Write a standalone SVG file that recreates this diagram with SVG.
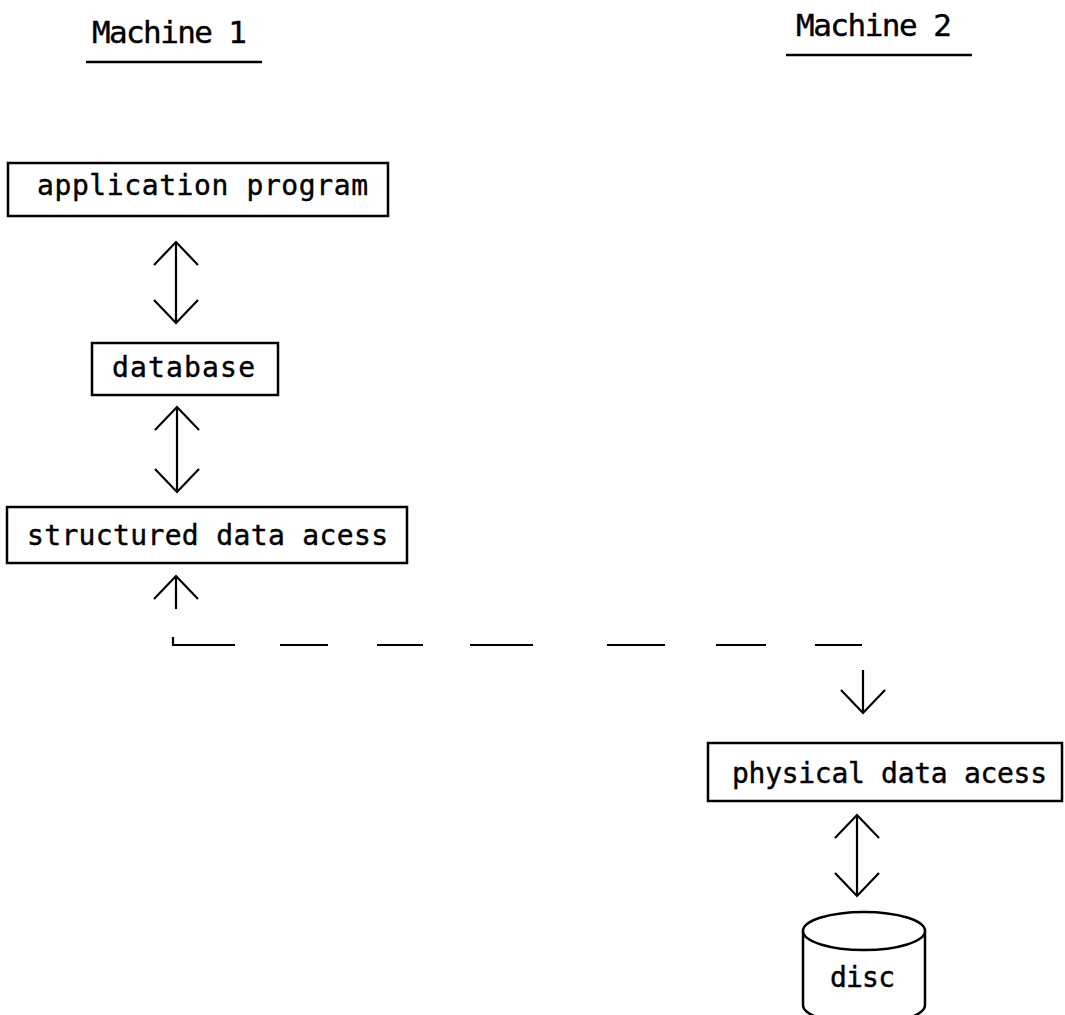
<svg xmlns="http://www.w3.org/2000/svg" width="1065" height="1015" viewBox="0 0 1065 1015">
  <style>
    .bg { fill: #ffffff; }
    .box { fill: #ffffff; stroke: #000000; stroke-width: 2.5; }
    .lbl { font-family: "DejaVu Sans Mono", "Liberation Mono", monospace; font-size: 28px; fill: #000000; stroke: #000000; stroke-width: 0.4; }
    .head { font-family: "DejaVu Sans Mono", "Liberation Mono", monospace; font-size: 31px; fill: #000000; stroke: #000000; stroke-width: 0.4; }
    .rule { stroke: #000000; stroke-width: 2.5; fill: none; }
    .conn { stroke: #000000; stroke-width: 2.2; fill: none; }
  </style>
  <defs>
    <marker id="v" markerUnits="userSpaceOnUse" viewBox="-30 -30 40 60" refX="0" refY="0" markerWidth="40" markerHeight="60" orient="auto-start-reverse" overflow="visible">
      <path d="M -23 -22 L 0 0 L -23 22" fill="none" stroke="#000000" stroke-width="2.2"/>
    </marker>
  </defs>
  <rect class="bg" x="0" y="0" width="1065" height="1015"/>

  <g id="machine1">
    <text class="head" x="92" y="43" textLength="155" lengthAdjust="spacing">Machine 1</text>
    <line class="rule" x1="86" y1="62" x2="262" y2="62"/>
  </g>
  <g id="machine2">
    <text class="head" x="796" y="36" textLength="156" lengthAdjust="spacing">Machine 2</text>
    <line class="rule" x1="786" y1="55" x2="972" y2="55"/>
  </g>

  <g id="application-program">
    <rect class="box" x="8" y="163" width="380" height="53"/>
    <text class="lbl" x="37" y="195" textLength="331" lengthAdjust="spacing">application program</text>
  </g>
  <g id="database">
    <rect class="box" x="92" y="343" width="186" height="52"/>
    <text class="lbl" x="112" y="377" textLength="143" lengthAdjust="spacing">database</text>
  </g>
  <g id="structured-data-acess">
    <rect class="box" x="7" y="507" width="400" height="56"/>
    <text class="lbl" x="27" y="545" textLength="361" lengthAdjust="spacing">structured data acess</text>
  </g>
  <g id="physical-data-acess">
    <rect class="box" x="708" y="743" width="354" height="58"/>
    <text class="lbl" x="732" y="783" textLength="315" lengthAdjust="spacing">physical data acess</text>
  </g>
  <g id="disc">
    <path class="box" d="M803 931 A61 19 0 0 1 925 931 L925 1005 A61 19 0 0 1 803 1005 Z"/>
    <path class="box" d="M803 931 A61 19 0 0 0 925 931" fill="none"/>
    <text class="lbl" x="830" y="987" textLength="65" lengthAdjust="spacing">disc</text>
  </g>

  <g id="connectors">
    <line class="conn" x1="176" y1="242" x2="176" y2="323" marker-start="url(#v)" marker-end="url(#v)"/>
    <line class="conn" x1="177" y1="407" x2="177" y2="492" marker-start="url(#v)" marker-end="url(#v)"/>
    <line class="conn" x1="176" y1="609" x2="176" y2="576" marker-end="url(#v)"/>
    <path class="conn" d="M173 637 V645 H235 M280 645 H328 M377 645 H423 M470 645 H533 M607 645 H665 M716 645 H766 M815 645 H862 M863 670 V713" marker-end="url(#v)"/>
    <line class="conn" x1="857" y1="815" x2="857" y2="896" marker-start="url(#v)" marker-end="url(#v)"/>
  </g>
</svg>
